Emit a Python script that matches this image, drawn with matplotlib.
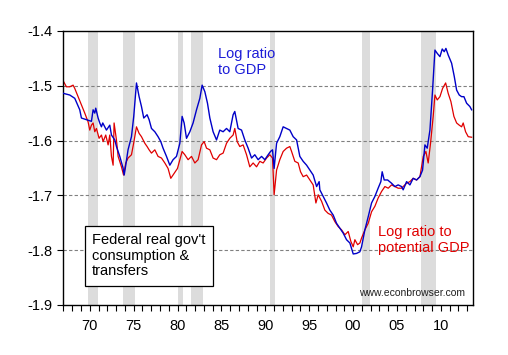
import matplotlib
matplotlib.use("Agg")
import matplotlib.pyplot as plt
from matplotlib.ticker import MultipleLocator, FuncFormatter

plt.rcParams["font.family"] = ["Liberation Sans", "DejaVu Sans"]

# =========================
# Data
# =========================
gdp_years = [
    1967.0, 1967.72, 1968.29, 1968.86, 1969.05, 1969.62, 1970.19, 1970.38, 1970.57, 1970.68,
    1970.95, 1971.14, 1971.33, 1971.48, 1971.9, 1972.28, 1972.47, 1972.85, 1973.04, 1973.42,
    1973.79, 1973.92, 1974.1, 1974.36, 1974.75, 1975.01, 1975.32, 1975.62, 1975.89, 1976.15,
    1976.53, 1976.76, 1977.03, 1977.41, 1977.78, 1978.09, 1978.35, 1978.74, 1979.12, 1979.49,
    1979.88, 1980.26, 1980.52, 1980.75, 1981.02, 1981.4, 1981.77, 1982.16, 1982.54, 1982.8,
    1983.11, 1983.41, 1983.68, 1984.05, 1984.44, 1984.81, 1985.19, 1985.58, 1985.95, 1986.33,
    1986.52, 1986.9, 1987.29, 1987.66, 1988.04, 1988.43, 1988.8, 1989.18, 1989.57, 1989.94,
    1990.32, 1990.59, 1990.82, 1991.0, 1991.28, 1991.65, 1992.03, 1992.42, 1992.79, 1993.17,
    1993.56, 1993.93, 1994.31, 1994.7, 1995.07, 1995.45, 1995.84, 1996.13, 1996.21, 1996.59,
    1996.97, 1997.35, 1997.73, 1998.11, 1998.49, 1998.87, 1999.25, 1999.63, 2000.01, 2000.39,
    2000.77, 2000.96, 2001.34, 2001.72, 2002.1, 2002.48, 2002.85, 2003.16, 2003.31, 2003.54,
    2003.93, 2004.38, 2004.76, 2005.13, 2005.52, 2005.7, 2006.09, 2006.47, 2006.84, 2007.23,
    2007.61, 2007.91, 2008.18, 2008.44, 2008.75, 2009.05, 2009.32, 2009.58, 2009.89, 2010.15,
    2010.38, 2010.57, 2010.83, 2011.22, 2011.52, 2011.79, 2012.09, 2012.36, 2012.62, 2012.93,
    2013.3, 2013.5,
]
log_ratio_gdp = [
    -1.514, -1.517, -1.523, -1.544, -1.559, -1.562, -1.565, -1.544, -1.550, -1.541,
    -1.559, -1.568, -1.575, -1.568, -1.581, -1.572, -1.590, -1.599, -1.611, -1.629,
    -1.650, -1.663, -1.645, -1.617, -1.593, -1.556, -1.495, -1.520, -1.538, -1.559,
    -1.553, -1.562, -1.578, -1.584, -1.593, -1.602, -1.614, -1.629, -1.645, -1.635,
    -1.629, -1.605, -1.556, -1.568, -1.596, -1.584, -1.568, -1.544, -1.523, -1.499,
    -1.511, -1.532, -1.559, -1.584, -1.599, -1.581, -1.584, -1.578, -1.584, -1.553,
    -1.547, -1.578, -1.581, -1.599, -1.614, -1.632, -1.626, -1.635, -1.629, -1.635,
    -1.626, -1.620, -1.617, -1.651, -1.605, -1.593, -1.575, -1.578, -1.581, -1.593,
    -1.599, -1.629, -1.638, -1.645, -1.654, -1.663, -1.684, -1.675, -1.690, -1.702,
    -1.714, -1.727, -1.736, -1.751, -1.760, -1.769, -1.781, -1.787, -1.807, -1.806,
    -1.803, -1.794, -1.763, -1.739, -1.714, -1.702, -1.687, -1.675, -1.657, -1.672,
    -1.672, -1.678, -1.684, -1.681, -1.684, -1.690, -1.675, -1.681, -1.669, -1.672,
    -1.666, -1.654, -1.608, -1.614, -1.581, -1.508, -1.435, -1.441, -1.447, -1.433,
    -1.438, -1.432, -1.444, -1.459, -1.483, -1.508, -1.517, -1.520, -1.520, -1.532,
    -1.538, -1.544,
]

pot_years = [
    1967.0, 1967.34, 1967.72, 1968.1, 1968.29, 1968.67, 1969.05, 1969.43, 1969.81, 1970.0,
    1970.19, 1970.38, 1970.57, 1970.76, 1971.06, 1971.33, 1971.52, 1971.82, 1972.09, 1972.28,
    1972.47, 1972.66, 1972.77, 1973.04, 1973.23, 1973.61, 1973.85, 1974.1, 1974.36, 1974.75,
    1975.01, 1975.32, 1975.62, 1975.89, 1976.27, 1976.53, 1976.76, 1977.03, 1977.41, 1977.78,
    1978.17, 1978.55, 1978.92, 1979.23, 1979.61, 1979.99, 1980.26, 1980.52, 1980.83, 1981.2,
    1981.59, 1981.97, 1982.34, 1982.73, 1983.03, 1983.3, 1983.68, 1984.05, 1984.44, 1984.81,
    1985.19, 1985.58, 1985.95, 1986.33, 1986.52, 1986.79, 1987.09, 1987.47, 1987.86, 1988.23,
    1988.61, 1989.0, 1989.37, 1989.75, 1990.14, 1990.51, 1990.82, 1991.0, 1991.28, 1991.65,
    1992.03, 1992.42, 1992.79, 1992.99, 1993.36, 1993.74, 1994.01, 1994.31, 1994.7, 1995.07,
    1995.45, 1995.76, 1996.02, 1996.41, 1996.78, 1997.16, 1997.54, 1997.92, 1998.3, 1998.68,
    1999.06, 1999.44, 1999.74, 2000.01, 2000.2, 2000.51, 2000.77, 2000.96, 2001.34, 2001.72,
    2002.1, 2002.48, 2002.85, 2003.24, 2003.62, 2004.0, 2004.38, 2004.76, 2005.13, 2005.52,
    2005.7, 2006.09, 2006.47, 2006.84, 2007.23, 2007.61, 2007.99, 2008.29, 2008.55, 2008.82,
    2009.12, 2009.32, 2009.58, 2009.89, 2010.19, 2010.54, 2010.83, 2011.14, 2011.48, 2011.79,
    2012.09, 2012.36, 2012.54, 2012.81, 2013.11, 2013.5,
]
log_ratio_pot = [
    -1.492, -1.502, -1.502, -1.499, -1.505, -1.520, -1.535, -1.550, -1.566, -1.581,
    -1.572, -1.568, -1.584, -1.578, -1.596, -1.590, -1.602, -1.590, -1.608, -1.590,
    -1.629, -1.645, -1.568, -1.599, -1.629, -1.648, -1.663, -1.641, -1.632, -1.626,
    -1.604, -1.575, -1.587, -1.593, -1.605, -1.611, -1.617, -1.623, -1.617, -1.629,
    -1.632, -1.641, -1.651, -1.669, -1.660, -1.651, -1.635, -1.620, -1.626, -1.635,
    -1.629, -1.641, -1.635, -1.608, -1.602, -1.614, -1.617, -1.632, -1.635, -1.626,
    -1.623, -1.605, -1.596, -1.590, -1.578, -1.602, -1.611, -1.608, -1.626, -1.648,
    -1.641, -1.648, -1.638, -1.641, -1.632, -1.626, -1.632, -1.699, -1.654, -1.635,
    -1.620, -1.614, -1.611, -1.620, -1.638, -1.641, -1.657, -1.666, -1.663, -1.672,
    -1.681, -1.714, -1.699, -1.711, -1.727, -1.733, -1.736, -1.748, -1.757, -1.763,
    -1.772, -1.766, -1.784, -1.794, -1.781, -1.790, -1.787, -1.778, -1.763, -1.751,
    -1.730, -1.720, -1.705, -1.693, -1.684, -1.687, -1.681, -1.684, -1.687, -1.687,
    -1.684, -1.678, -1.675, -1.669, -1.672, -1.666, -1.629, -1.620, -1.641, -1.605,
    -1.556, -1.517, -1.526, -1.520, -1.505, -1.495, -1.514, -1.529, -1.556, -1.568,
    -1.572, -1.575, -1.568, -1.584, -1.593, -1.594,
]

recession_starts = [1969.8, 1973.8, 1980.0, 1981.5, 1990.5, 2001.0, 2007.75]
recession_ends = [1970.9, 1975.2, 1980.6, 1982.9, 1991.15, 2001.9, 2009.4]

# =========================
# Figure
# =========================
fig = plt.figure(figsize=(5.08, 3.55), dpi=100)
ax = fig.add_axes([0.124, 0.141, 0.807, 0.772])

for start, end in zip(recession_starts, recession_ends):
    ax.axvspan(start, end, color="#dcdcdc", lw=0, zorder=0)

for yv in [-1.5, -1.6, -1.7, -1.8]:
    ax.axhline(yv, color="#808080", lw=0.8, ls=(0, (3, 2)), zorder=1)

ax.plot(gdp_years, log_ratio_gdp, color="#0000c8", lw=1.0, zorder=3)
ax.plot(pot_years, log_ratio_pot, color="#e00000", lw=0.9, zorder=2)

ax.set_xlim(1966.95, 2013.65)
ax.set_ylim(-1.9, -1.4)

ax.yaxis.set_major_locator(MultipleLocator(0.1))
ax.yaxis.set_major_formatter(FuncFormatter(lambda v, p: f"{v:.1f}"))
ax.xaxis.set_major_locator(MultipleLocator(5))
ax.xaxis.set_minor_locator(MultipleLocator(1))
ax.xaxis.set_major_formatter(FuncFormatter(lambda v, p: f"{int(round(v)) % 100:02d}"))

ax.tick_params(axis="both", which="major", direction="out", length=4, width=0.8,
               labelsize=10.5, colors="black")
ax.tick_params(axis="x", which="minor", direction="out", length=4, width=0.8)
ax.tick_params(axis="x", which="major", pad=6)

for s in ax.spines.values():
    s.set_linewidth(1.0)
    s.set_color("black")

ax.text(0.378, 0.94, "Log ratio\nto GDP", transform=ax.transAxes, color="#1c1cd8",
        fontsize=10.5, va="top", ha="left", linespacing=1.15)
ax.text(0.768, 0.29, "Log ratio to\npotential GDP", transform=ax.transAxes, color="#e00000",
        fontsize=10.5, va="top", ha="left", linespacing=1.15)
ax.text(0.071, 0.262, "Federal real gov't\nconsumption &\ntransfers", transform=ax.transAxes,
        fontsize=10.5, va="top", ha="left", linespacing=1.15,
        bbox=dict(boxstyle="square,pad=0.5", fc="white", ec="black", lw=0.9))
ax.text(0.722, 0.045, "www.econbrowser.com", transform=ax.transAxes, fontsize=7.5,
        va="center", ha="left", color="#202020")

fig.savefig("out.png", dpi=100)
